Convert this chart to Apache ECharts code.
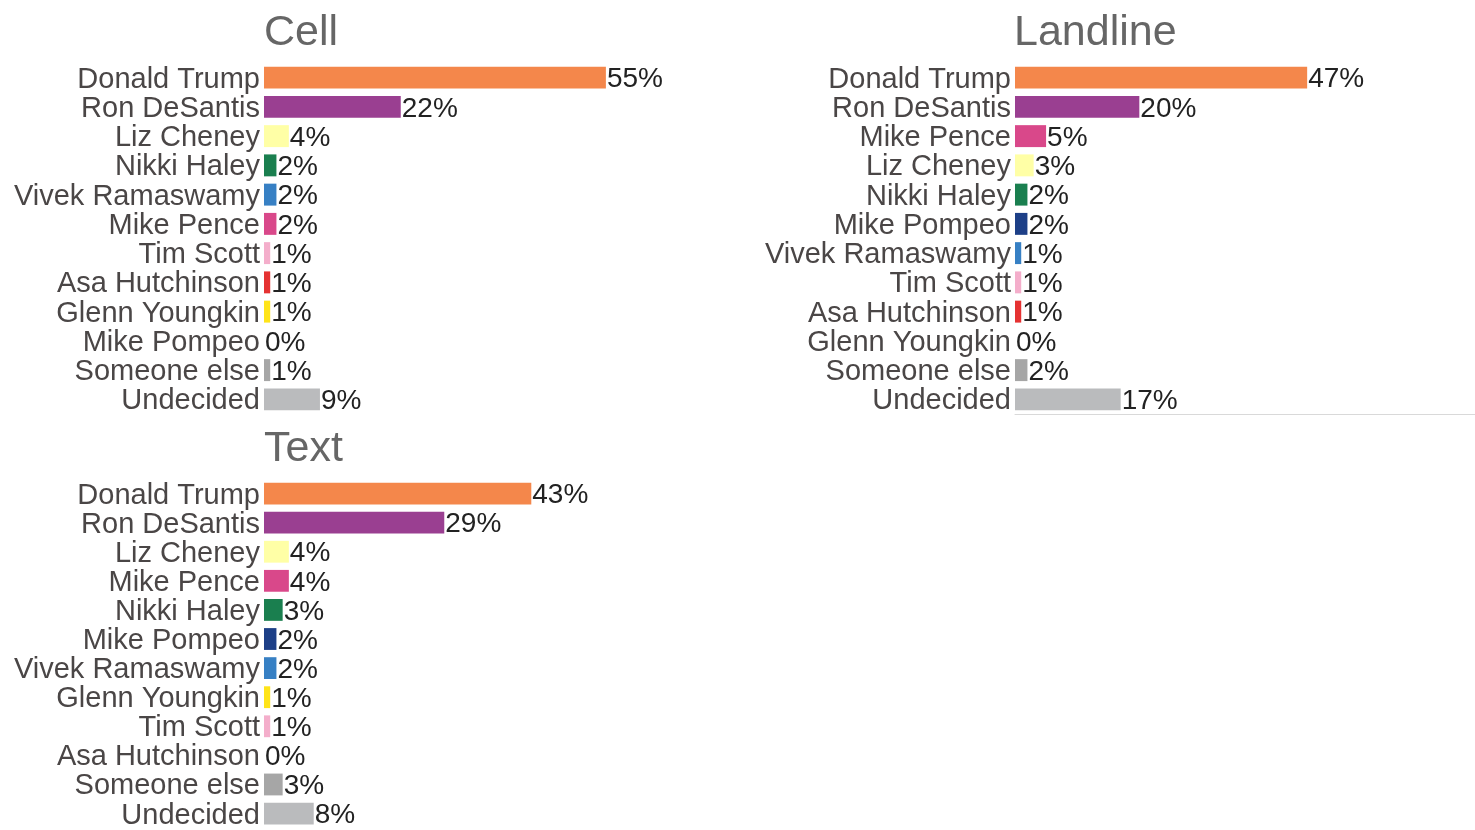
<!DOCTYPE html>
<html>
<head>
<meta charset="utf-8">
<script src="https://cdn.jsdelivr.net/npm/echarts@6/dist/echarts.min.js"></script>
<style>html,body{margin:0;padding:0;background:#fff;}#c{width:1475px;height:830px;}</style>
</head>
<body>
<div id="c"></div>
<script>
const cellCategories = ["Donald Trump","Ron DeSantis","Liz Cheney","Nikki Haley","Vivek Ramaswamy","Mike Pence","Tim Scott","Asa Hutchinson","Glenn Youngkin","Mike Pompeo","Someone else","Undecided"];
const cellValues = [55,22,4,2,2,2,1,1,1,0,1,9];

const landlineCategories = ["Donald Trump","Ron DeSantis","Mike Pence","Liz Cheney","Nikki Haley","Mike Pompeo","Vivek Ramaswamy","Tim Scott","Asa Hutchinson","Glenn Youngkin","Someone else","Undecided"];
const landlineValues = [47,20,5,3,2,2,1,1,1,0,2,17];

const textCategories = ["Donald Trump","Ron DeSantis","Liz Cheney","Mike Pence","Nikki Haley","Mike Pompeo","Vivek Ramaswamy","Glenn Youngkin","Tim Scott","Asa Hutchinson","Someone else","Undecided"];
const textValues = [43,29,4,4,3,2,2,1,1,0,3,8];

const candidateColors = {
  "Donald Trump":"#F4874B","Ron DeSantis":"#9A3F91","Liz Cheney":"#FFFFA6","Nikki Haley":"#1A7F4F",
  "Vivek Ramaswamy":"#3780C4","Mike Pence":"#D9488A","Tim Scott":"#F4AECB","Asa Hutchinson":"#E53232",
  "Glenn Youngkin":"#FFE419","Mike Pompeo":"#1D3F87","Someone else":"#A6A6A6","Undecided":"#BABBBD"
};

const panelTitles = ["Cell","Landline","Text"];
const FONT = "'Liberation Sans', Arial, sans-serif";

const panels = [
  {cats: cellCategories, vals: cellValues, grid:{left:264, top:63, width:460, height:351}, axisLine:false, titlePos:{left:264, top:12}},
  {cats: landlineCategories, vals: landlineValues, grid:{left:1015, top:63, width:460, height:351}, axisLine:true, titlePos:{left:1014, top:12}},
  {cats: textCategories, vals: textValues, grid:{left:264, top:479, width:460, height:351}, axisLine:false, titlePos:{left:264, top:428}}
];

const option = {
  animation:false,
  backgroundColor:'#fff',
  title: panels.map((p,i)=>({text:panelTitles[i], left:p.titlePos.left, top:p.titlePos.top, padding:0,
    textStyle:{fontFamily:FONT, fontSize:43, fontWeight:'normal', color:'#666666'}})),
  grid: panels.map(p=>Object.assign({containLabel:false}, p.grid)),
  xAxis: panels.map((p,i)=>({type:'value', gridIndex:i, min:0, max:74,
    axisLine:{show:p.axisLine, lineStyle:{color:'#d9d9d9', width:1}}, axisTick:{show:false},
    axisLabel:{show:false}, splitLine:{show:false}})),
  yAxis: panels.map((p,i)=>({type:'category', gridIndex:i, inverse:true, data:p.cats,
    axisLine:{show:false}, axisTick:{show:false},
    axisLabel:{interval:0, margin:4, fontFamily:FONT, fontSize:29, color:'#4a4646', verticalAlign:'top', lineHeight:4}})),
  series: panels.map((p,i)=>({type:'bar', xAxisIndex:i, yAxisIndex:i, barCategoryGap:'25%',
    data:p.vals.map((v,j)=>({value:v, itemStyle:{color:candidateColors[p.cats[j]]}})),
    label:{show:true, position:'right', distance:1, formatter:'{c}%', fontFamily:FONT, fontSize:28, color:'#222', verticalAlign:'top', lineHeight:4}}))
};

echarts.init(document.getElementById('c'), null, {renderer:'canvas'}).setOption(option);
</script>
</body>
</html>
